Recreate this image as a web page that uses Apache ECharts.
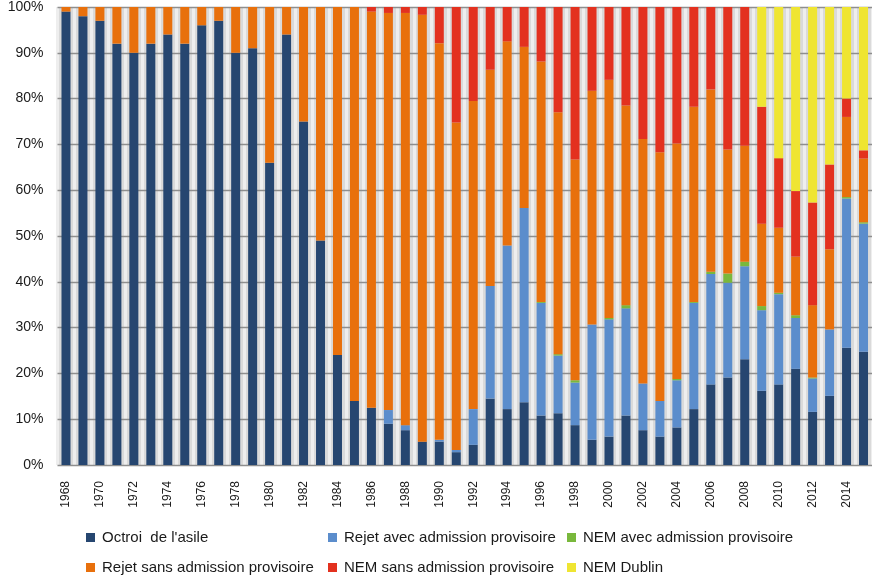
<!DOCTYPE html>
<html>
<head>
<meta charset="utf-8">
<script src="https://cdn.jsdelivr.net/npm/echarts@6/dist/echarts.min.js"></script>
<style>
html,body{margin:0;padding:0;background:#fff;}
#c{width:872px;height:580px;}
</style>
</head>
<body>
<div id="c"></div>
<script>
var years = ['1968','1969','1970','1971','1972','1973','1974','1975','1976','1977','1978','1979',
  '1980','1981','1982','1983','1984','1985','1986','1987','1988','1989','1990','1991',
  '1992','1993','1994','1995','1996','1997','1998','1999','2000','2001','2002','2003',
  '2004','2005','2006','2007','2008','2009','2010','2011','2012','2013','2014','2015'];

var yTicks = [0,10,20,30,40,50,60,70,80,90,100];

var octroi = [99,98,97,92,90,92,94,92,96,97,90,91,
  66,94,75,49,24,14,12.5,9,7.6,5.1,5.1,2.8,
  4.4,14.5,12.2,13.7,10.8,11.3,8.7,5.5,6.2,10.8,7.6,6.2,
  8.2,12.2,17.6,19.1,23.1,16.2,17.6,21.0,11.6,15.1,25.6,24.7];

var rejetAvec = [0,0,0,0,0,0,0,0,0,0,0,0,
  0,0,0,0,0,0,0,3,1.1,0,0.4,0.5,
  7.8,24.6,35.7,42.4,24.6,12.6,9.3,25.2,25.6,23.4,10.2,7.8,
  10.3,23.2,24.1,20.7,20.3,17.6,19.7,11.1,7.3,14.5,32.6,28.0];

var nemAvec = [0,0,0,0,0,0,0,0,0,0,0,0,
  0,0,0,0,0,0,0,0,0,0,0,0,
  0,0,0,0,0.2,0.3,0.5,0,0.3,0.7,0,0,
  0.3,0.2,0.5,2.0,1.0,0.9,0.3,0.6,0.2,0,0.3,0.3];

var rejetSans = [1,2,3,8,10,8,6,8,4,3,10,9,
  34,6,25,51,76,86,86.5,86.7,90,93.2,86.6,71.5,
  67.3,47.2,44.6,35.2,52.5,52.8,48.2,51.0,52.0,43.6,53.4,54.3,
  51.4,42.6,39.8,27.1,25.3,18.0,14.2,12.8,15.8,17.5,17.5,13.9];

var nemSans = [0,0,0,0,0,0,0,0,0,0,0,0,
  0,0,0,0,0,0,1,1.3,1.3,1.7,7.9,25.2,
  20.5,13.7,7.5,8.7,11.9,23.0,33.3,18.3,15.9,21.5,28.8,31.7,
  29.8,21.8,18.0,31.1,30.3,25.5,15.2,14.3,22.4,18.5,4.0,1.8];

var nemDublin = [0,0,0,0,0,0,0,0,0,0,0,0,
  0,0,0,0,0,0,0,0,0,0,0,0,
  0,0,0,0,0,0,0,0,0,0,0,0,
  0,0,0,0,0,21.8,33.0,40.2,42.7,34.4,20.0,31.3];

var names = ["Octroi  de l'asile", 'Rejet avec admission provisoire', 'NEM avec admission provisoire',
  'Rejet sans admission provisoire', 'NEM sans admission provisoire', 'NEM Dublin'];
var colors = ['#264670', '#5b8dcc', '#79b83c', '#e8700c', '#e3311f', '#efe532'];
var dataSets = [octroi, rejetAvec, nemAvec, rejetSans, nemSans, nemDublin];

var FONT = 'Liberation Sans';

var series = dataSets.map(function (d, i) {
  return {
    name: names[i],
    type: 'bar',
    stack: 'total',
    data: d,
    barWidth: 9,
    itemStyle: { color: colors[i] },
    emphasis: { disabled: true },
    z: 3
  };
});

var legCols = [86, 328, 567];
var legRows = [530, 560];
var legends = names.map(function (n, i) {
  return {
    data: [n],
    left: legCols[i % 3],
    top: legRows[Math.floor(i / 3)],
    icon: 'rect',
    itemWidth: 9,
    itemHeight: 9,
    selectedMode: false,
    padding: 0,
    textStyle: { fontFamily: FONT, fontSize: 15, color: '#1a1a1a', padding: [0, 0, 0, 2] }
  };
});

var chart = echarts.init(document.getElementById('c'), null, { renderer: 'canvas' });
chart.setOption({
  animation: false,
  backgroundColor: '#ffffff',
  color: colors,
  legend: legends,
  grid: {
    left: 57.5, top: 7, width: 817, height: 458,
    show: true, backgroundColor: '#dadada', borderWidth: 0
  },
  xAxis: {
    type: 'category',
    data: years,
    boundaryGap: true,
    axisLine: { show: false },
    axisTick: { show: false },
    splitLine: { show: true, interval: 0, lineStyle: { color: '#eeeeee', width: 3 } },
    axisLabel: {
      interval: 1,
      rotate: 90,
      margin: 16,
      fontFamily: FONT,
      fontSize: 12,
      color: '#1a1a1a'
    }
  },
  yAxis: {
    type: 'value',
    min: yTicks[0],
    max: yTicks[yTicks.length - 1],
    interval: 10,
    z: 1,
    axisLine: { show: false },
    axisTick: { show: false },
    splitLine: { show: true, lineStyle: { color: '#8e8e8e', width: 1.3 } },
    axisLabel: {
      formatter: '{value}%',
      margin: 14,
      fontFamily: FONT,
      fontSize: 14,
      color: '#1a1a1a'
    }
  },
  series: series
});
</script>
</body>
</html>
